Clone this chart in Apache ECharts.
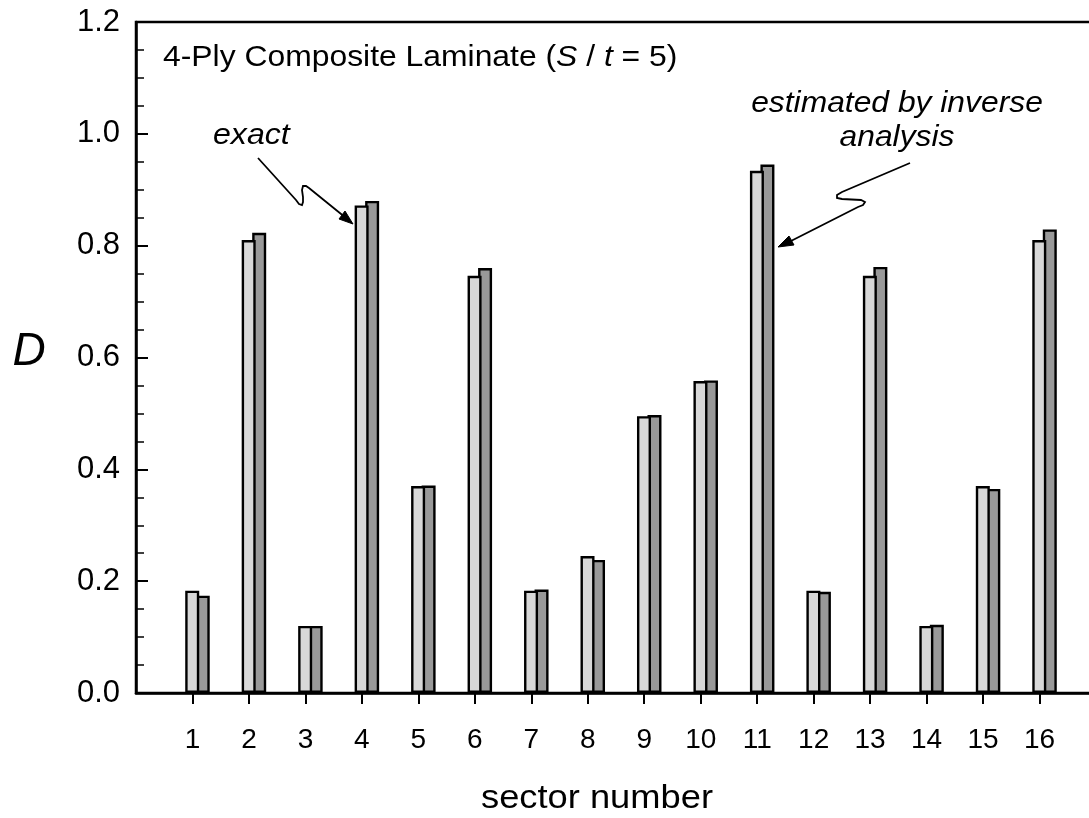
<!DOCTYPE html>
<html>
<head>
<meta charset="utf-8">
<script src="https://cdn.jsdelivr.net/npm/echarts@6/dist/echarts.min.js"></script>
<style>
html,body{margin:0;padding:0;background:#fff;}
#chart{width:1089px;height:818px;}
</style>
</head>
<body>
<div id="chart"></div>
<script>
// ---- data ----
const sectors = ['1','2','3','4','5','6','7','8','9','10','11','12','13','14','15','16'];
const exactValues = [0.183, 0.810, 0.120, 0.872, 0.370, 0.746, 0.183, 0.245, 0.495, 0.558, 0.934, 0.183, 0.746, 0.120, 0.370, 0.810];
const estimatedValues = [0.174, 0.823, 0.120, 0.880, 0.371, 0.760, 0.185, 0.238, 0.497, 0.559, 0.945, 0.181, 0.762, 0.122, 0.365, 0.829];
const yTickLabels = ['0.0','0.2','0.4','0.6','0.8','1.0','1.2'];

// padded categories: sector 0 and 17 are empty edge positions
const categories = [''].concat(sectors, ['']);
const pad = arr => [null].concat(arr, [null]);

const FONT = "'Liberation Sans', Arial, sans-serif";
const chart = echarts.init(document.getElementById('chart'));

function label(x, y, text, size, opts) {
  opts = opts || {};
  return {type: 'text', z: 100, x: x, y: y, scaleX: opts.scaleX || 1,
    style: Object.assign({x: 0, y: 0, textVerticalAlign: 'middle', textAlign: opts.align || 'left',
      text: text, fontSize: size, fontFamily: FONT, fontStyle: opts.italic ? 'italic' : 'normal', fill: '#000'},
      opts.rich ? {rich: opts.rich} : {})};
}

const option = {
  animation: false,
  backgroundColor: '#fff',
  grid: [
    {left: 136, right: -7, top: 22, bottom: 125, outerBoundsMode: 'none', containLabel: false,
     show: true, borderColor: '#000', borderWidth: 2.5, backgroundColor: 'transparent'},
    {left: 141, right: -12, top: 22, bottom: 125, outerBoundsMode: 'none', containLabel: false}
  ],
  xAxis: [
    {
      type: 'category', gridIndex: 0, data: categories, boundaryGap: false,
      axisLine: {lineStyle: {color: '#000', width: 2.5}},
      axisTick: {show: true, inside: false, length: 11, lineStyle: {color: '#000', width: 2},
        interval: (i) => i >= 1 && i <= sectors.length},
      axisLabel: {interval: 0, color: '#000', fontSize: 28, fontFamily: FONT, margin: 33},
      splitLine: {show: false}
    },
    {type: 'category', gridIndex: 1, data: categories, boundaryGap: false, show: false}
  ],
  yAxis: [
    {
      type: 'value', gridIndex: 0, min: 0, max: 1.2, interval: 0.2,
      axisLine: {show: true, lineStyle: {color: '#000', width: 2.5}},
      axisTick: {show: true, inside: true, length: 12, lineStyle: {color: '#000', width: 2}},
      minorTick: {show: true, splitNumber: 4, length: 8, lineStyle: {color: '#000', width: 1.5}},
      axisLabel: {color: '#000', fontSize: 31, fontFamily: FONT, margin: 16,
        formatter: (v) => yTickLabels[Math.round(v / 0.2)]},
      splitLine: {show: false}
    },
    {type: 'value', gridIndex: 1, min: 0, max: 1.2, interval: 0.2, show: false}
  ],
  series: [
    {
      name: 'exact', type: 'bar', xAxisIndex: 1, yAxisIndex: 1,
      data: pad(exactValues), barWidth: 14, barGap: '-25%', z: 4,
      itemStyle: {color: '#d8d8d8', borderColor: '#000', borderWidth: 2.4}
    },
    {
      name: 'estimated by inverse analysis', type: 'bar', xAxisIndex: 1, yAxisIndex: 1,
      data: pad(estimatedValues), barWidth: 14, z: 3,
      itemStyle: {color: '#999999', borderColor: '#000', borderWidth: 2.4}
    }
  ],
  graphic: [
    label(163, 58, '{n|4-Ply Composite Laminate (}{i|S}{n| / }{i|t}{n| = 5)}', 29.5, {scaleX: 1.08, rich: {
      n: {fontSize: 29.5, fontFamily: FONT, fill: '#000'},
      i: {fontSize: 29.5, fontFamily: FONT, fontStyle: 'italic', fill: '#000'}
    }}),
    label(213, 136, 'exact', 30, {italic: true, scaleX: 1.07}),
    label(897, 103.5, 'estimated by inverse', 30, {italic: true, align: 'center', scaleX: 1.06}),
    label(897, 137.5, 'analysis', 30, {italic: true, align: 'center', scaleX: 1.06}),
    label(29, 352, 'D', 46, {italic: true, align: 'center'}),
    label(597, 799, 'sector number', 33, {align: 'center', scaleX: 1.1}),
    // arrow for "exact"
    {type: 'polyline', z: 100, shape: {points: [[258,158],[296,200],[299,204],[302,205],[303,202],[303,197],[302,190],[303,186],[306,186],[309,188],[346,218]]},
      style: {fill: null, stroke: '#000', lineWidth: 1.8}},
    {type: 'polygon', z: 100, shape: {points: [[353, 224], [339, 219], [345, 211]]},
      style: {fill: '#000', stroke: '#000', lineWidth: 1}},
    // arrow for "estimated by inverse analysis"
    {type: 'polyline', z: 100, shape: {points: [[910,163],[842,192],[837,195],[837,198],[842,199],[861,200],[865,202],[863,205],[858,207],[787,243]]},
      style: {fill: null, stroke: '#000', lineWidth: 1.8}},
    {type: 'polygon', z: 100, shape: {points: [[778, 247], [789, 236], [794, 245]]},
      style: {fill: '#000', stroke: '#000', lineWidth: 1}}
  ]
};
chart.setOption(option);
</script>
</body>
</html>
